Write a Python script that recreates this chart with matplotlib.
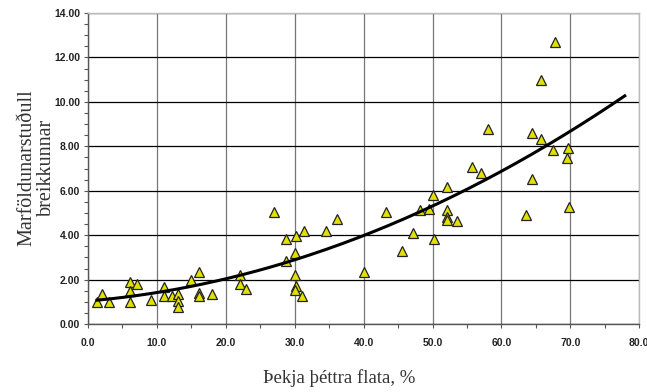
''' MARFÖLDUNARSTUÐULL BREIKKUNAR VS ÞEKJA ÞÉTTRA FLATA '''

import numpy as np
import matplotlib
matplotlib.use("Agg")
import matplotlib.pyplot as plt
from matplotlib.ticker import MultipleLocator, FormatStrFormatter

# DATA
cover_pct = [1.35, 2.1, 3.05, 6.1, 6.1, 6.1, 7.05, 9.2, 11.1, 11.1, 12.2, 13.1, 13.1, 13.1,
             15.0, 16.1, 16.1, 16.1, 18.0, 22.1, 22.1, 23.0, 27.0, 28.7, 28.7, 30.2, 30.0,
             30.0, 30.2, 30.0, 31.1, 31.3, 34.5, 36.1, 40.1, 43.3, 45.5, 47.1, 48.2, 49.5,
             50.0, 50.2, 52.1, 52.1, 52.1, 52.1, 53.6, 55.8, 57.0, 58.1, 63.6, 64.5, 64.5,
             65.7, 65.7, 67.5, 67.8, 69.5, 69.7, 69.8]
factor = [0.98, 1.35, 0.98, 1.9, 1.49, 1.0, 1.79, 1.11, 1.68, 1.28, 1.27, 1.38, 1.05, 0.78,
          1.98, 2.36, 1.41, 1.26, 1.38, 2.2, 1.79, 1.58, 5.03, 3.81, 2.85, 3.96, 3.18,
          2.2, 1.7, 1.55, 1.27, 4.2, 4.2, 4.73, 2.36, 5.03, 3.3, 4.11, 5.13, 5.2,
          5.8, 3.85, 6.16, 5.13, 4.83, 4.68, 4.66, 7.06, 6.79, 8.77, 4.91, 8.62, 6.53,
          10.99, 8.33, 7.84, 12.69, 7.49, 7.91, 5.28]

# TRENDLINE (2nd order polynomial, coefficients)
trend_coef = [0.001183, 0.02631, 1.042]
trend_start, trend_end = 1.3, 77.9

# FIGURE
fig = plt.figure(figsize=(6.47, 3.92), dpi=100)
ax = fig.add_axes([0.136, 0.173, 0.852, 0.794])

ax.set_xlim(0, 80)
ax.set_ylim(0, 14)
ax.xaxis.set_major_locator(MultipleLocator(10))
ax.xaxis.set_minor_locator(MultipleLocator(5))
ax.yaxis.set_major_locator(MultipleLocator(2))
ax.yaxis.set_minor_locator(MultipleLocator(0.5))
ax.xaxis.set_major_formatter(FormatStrFormatter("%.1f"))
ax.yaxis.set_major_formatter(FormatStrFormatter("%.2f"))

ax.grid(True, which="major", axis="y", color="black", linewidth=0.9)
ax.grid(True, which="major", axis="x", color="#777777", linewidth=0.9)
ax.set_axisbelow(True)

for side in ["top", "right"]:
    ax.spines[side].set_color("#bbbbbb")
    ax.spines[side].set_linewidth(1.0)
for side in ["left", "bottom"]:
    ax.spines[side].set_color("#555555")
    ax.spines[side].set_linewidth(1.0)

ax.tick_params(which="both", direction="out", color="#555555", length=3, width=0.8)
ax.tick_params(which="major", labelsize=7.5)
ax.tick_params(axis="x", which="major", pad=7)
ax.tick_params(axis="y", which="major", pad=2.5)
for lbl in ax.get_xticklabels() + ax.get_yticklabels():
    lbl.set_fontweight("bold")
    lbl.set_family(["Liberation Sans Narrow", "Liberation Sans"])
    lbl.set_color("#222222")

# SCATTER
ax.plot(cover_pct, factor, linestyle="none", marker="^", markersize=6.5,
        markerfacecolor="#e2e000", markeredgecolor="#222222", markeredgewidth=0.9,
        zorder=3)

# TRENDLINE
xs = np.linspace(trend_start, trend_end, 200)
ax.plot(xs, np.polyval(trend_coef, xs), color="black", linewidth=2.2, zorder=4)

# LABELS
fig.text(0.057, 0.572, "Marföldunarstuðull\nbreikkunnar", rotation=90,
         ha="center", va="center", family="Liberation Serif", fontsize=14.5,
         color="#333333", linespacing=1.0)
fig.text(0.525, 0.036, "Þekja þéttra flata, %", ha="center", va="center",
         family="Liberation Serif", fontsize=13.5, color="#333333")

fig.savefig("out.png", dpi=100)
